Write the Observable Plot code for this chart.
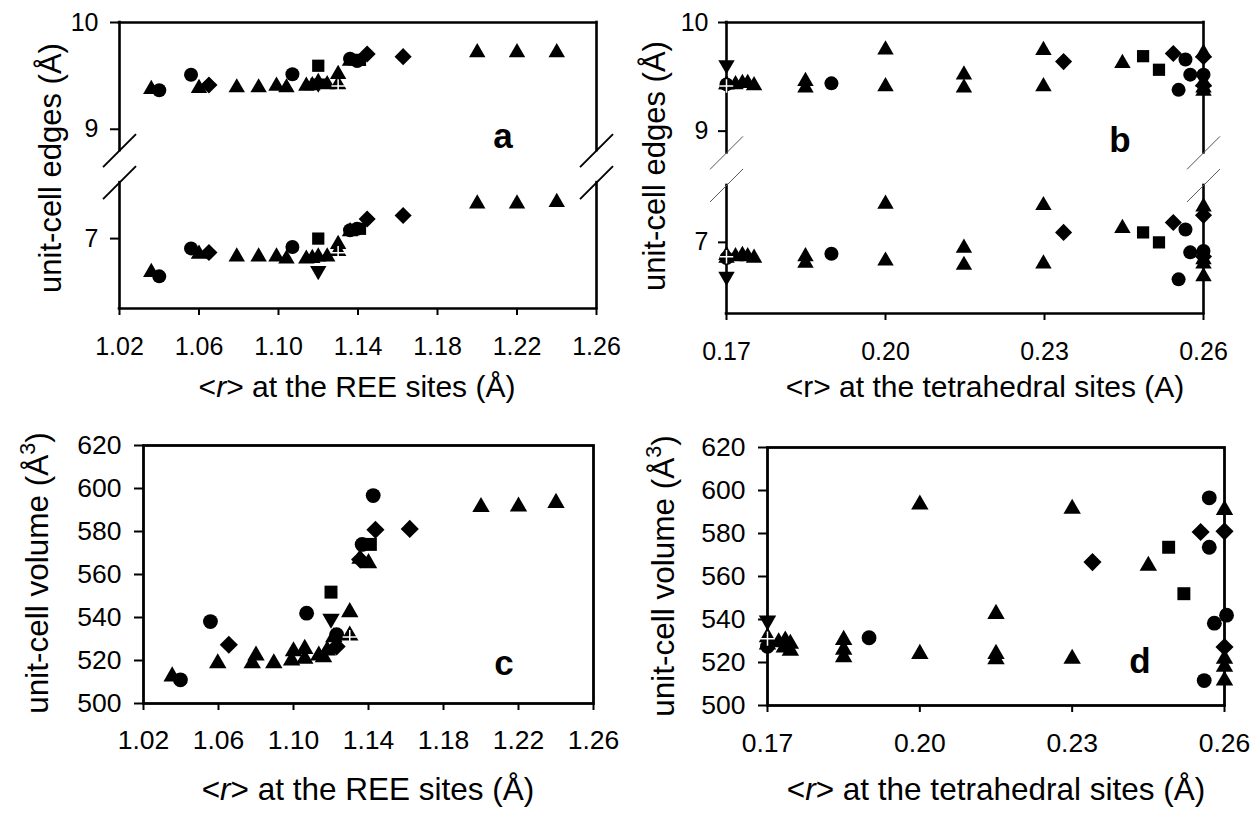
<!DOCTYPE html>
<html>
<head>
<meta charset="utf-8">
<script src="https://cdn.jsdelivr.net/npm/d3@7"></script>
<script src="https://cdn.jsdelivr.net/npm/@observablehq/plot@0.6"></script>
<style>
  body { margin: 0; background: #fff; }
  #root { position: relative; width: 1253px; height: 813px; overflow: hidden;
          font-family: "Liberation Sans", Arial, sans-serif; color: #000; background: #fff; }
  .panel { position: absolute; }
  .lbl { position: absolute; white-space: nowrap; line-height: 1; color: #000; }
  .lbl sup { font-size: 68%; vertical-align: 0.62em; line-height: 0; }
  .panel svg [aria-label$="axis tick"], .panel svg .tick line { stroke-width: 2px; }
</style>
</head>
<body>
<div id="root"></div>
<script>
// ---------------- data ----------------
const reeDomain = [1.02, 1.26];
const tetDomain = [0.17, 0.26];
const reeTicks = [1.02, 1.06, 1.10, 1.14, 1.18, 1.22, 1.26];
const tetTicks = [0.17, 0.20, 0.23, 0.26];
// broken edge axis: [lower min, lower max | upper min, upper max]
const edgeDomain = [6.5, 7.4, 8.8, 10];
// share of the axis height taken at each of those break values
const edgeAxisShare = [0, 0.44, 0.552, 1];
const edgeTicks = [7, 9, 10];
const volumeDomain = [500, 620];
const volumeTicks = [500, 520, 540, 560, 580, 600, 620];

// panel a: [series, <r> REE site, a edge, c edge]
const panelA = [
  ["triangle", 1.036, 9.375, 6.76],
  ["circle", 1.040, 9.365, 6.73],
  ["circle", 1.056, 9.51, 6.93],
  ["triangle", 1.060, 9.385, 6.89],
  ["diamond", 1.065, 9.415, 6.90],
  ["triangle", 1.079, 9.39, 6.87],
  ["triangle", 1.090, 9.39, 6.87],
  ["triangle", 1.099, 9.405, 6.87],
  ["triangle", 1.104, 9.39, 6.855],
  ["circle", 1.107, 9.515, 6.94],
  ["triangle", 1.114, 9.405, 6.855],
  ["triangle", 1.117, 9.41, 6.86],
  ["square", 1.120, 9.595, 7.00],
  ["triangleDown", 1.120, 9.43, 6.77],
  ["triangle", 1.120, 9.44, 6.87],
  ["triangle", 1.1245, 9.42, 6.87],
  ["triangle", 1.130, 9.515, 6.96],
  ["crossTriangle", 1.130, 9.42, 6.91],
  ["triangle", 1.136, 9.64, 7.05],
  ["circle", 1.136, 9.66, 7.06],
  ["square", 1.141, 9.65, 7.07],
  ["circle", 1.1396, 9.64, 7.07],
  ["diamond", 1.1446, 9.705, 7.14],
  ["diamond", 1.1627, 9.68, 7.165],
  ["triangle", 1.200, 9.72, 7.25],
  ["triangle", 1.220, 9.72, 7.25],
  ["triangle", 1.240, 9.72, 7.26]
];

// panel b: [series, <r> tetrahedral site, a edge, c edge]
const panelB = [
  ["triangleDown", 0.170, 9.61, 6.76],
  ["circle", 0.170, 9.43, 6.89],
  ["triangle", 0.170, 9.43, 6.89],
  ["crossTriangle", 0.170, 9.43, 6.91],
  ["triangle", 0.1717, 9.43, 6.90],
  ["triangle", 0.1730, 9.44, 6.91],
  ["triangle", 0.1740, 9.44, 6.90],
  ["triangle", 0.1752, 9.42, 6.89],
  ["triangle", 0.1849, 9.46, 6.90],
  ["triangle", 0.1849, 9.40, 6.855],
  ["circle", 0.1898, 9.44, 6.92],
  ["triangle", 0.200, 9.75, 7.27],
  ["triangle", 0.200, 9.41, 6.87],
  ["triangle", 0.2148, 9.52, 6.96],
  ["triangle", 0.2148, 9.40, 6.84],
  ["triangle", 0.2298, 9.745, 7.26],
  ["triangle", 0.2298, 9.41, 6.85],
  ["diamond", 0.2336, 9.64, 7.07],
  ["triangle", 0.2447, 9.625, 7.10],
  ["square", 0.2486, 9.69, 7.07],
  ["square", 0.2516, 9.565, 7.00],
  ["diamond", 0.2543, 9.715, 7.14],
  ["circle", 0.2566, 9.66, 7.09],
  ["circle", 0.2575, 9.52, 6.93],
  ["circle", 0.2553, 9.38, 6.74],
  ["triangle", 0.260, 9.72, 7.25],
  ["diamond", 0.260, 9.685, 7.19],
  ["circle", 0.260, 9.52, 6.94],
  ["diamond", 0.260, 9.42, 6.90],
  ["triangle", 0.260, 9.45, 6.88],
  ["triangle", 0.260, 9.40, 6.85],
  ["triangle", 0.260, 9.37, 6.76]
];

// panel c: [series, <r> REE site, unit-cell volume]
const panelC = [
  ["triangle", 1.0353, 512.6],
  ["circle", 1.0397, 511.0],
  ["circle", 1.0557, 538.1],
  ["triangle", 1.0596, 518.7],
  ["diamond", 1.0655, 527.3],
  ["triangle", 1.078, 518.7],
  ["triangle", 1.080, 522.3],
  ["triangle", 1.0895, 518.7],
  ["triangle", 1.099, 520.0],
  ["triangle", 1.100, 524.3],
  ["triangle", 1.106, 520.8],
  ["triangle", 1.106, 525.4],
  ["circle", 1.107, 542.0],
  ["triangle", 1.1135, 522.3],
  ["triangle", 1.116, 521.5],
  ["triangle", 1.118, 524.7],
  ["triangle", 1.1215, 530.8],
  ["diamond", 1.123, 526.5],
  ["circle", 1.123, 532.0],
  ["square", 1.120, 551.8],
  ["triangleDown", 1.120, 539.4],
  ["triangle", 1.130, 542.5],
  ["crossTriangle", 1.130, 531.6],
  ["triangle", 1.1355, 567.3],
  ["diamond", 1.1355, 567.0],
  ["triangle", 1.140, 565.3],
  ["circle", 1.1366, 574.0],
  ["square", 1.141, 574.0],
  ["circle", 1.1425, 596.7],
  ["diamond", 1.1437, 580.8],
  ["diamond", 1.162, 581.2],
  ["triangle", 1.200, 591.4],
  ["triangle", 1.220, 591.6],
  ["triangle", 1.240, 593.3]
];

// panel d: [series, <r> tetrahedral site, unit-cell volume]
const panelD = [
  ["triangle", 0.170, 528.4],
  ["circle", 0.170, 527.5],
  ["triangleDown", 0.170, 539.5],
  ["crossTriangle", 0.170, 531.8],
  ["triangle", 0.1722, 529.4],
  ["triangle", 0.1733, 527.0],
  ["triangle", 0.1735, 530.2],
  ["triangle", 0.1745, 528.7],
  ["triangle", 0.1745, 525.5],
  ["triangle", 0.185, 530.5],
  ["triangle", 0.185, 526.0],
  ["triangle", 0.185, 522.5],
  ["circle", 0.190, 531.5],
  ["triangle", 0.200, 593.5],
  ["triangle", 0.200, 524.0],
  ["triangle", 0.215, 542.6],
  ["triangle", 0.215, 524.0],
  ["triangle", 0.215, 521.5],
  ["triangle", 0.230, 591.5],
  ["triangle", 0.230, 521.7],
  ["diamond", 0.234, 566.7],
  ["triangle", 0.245, 565.0],
  ["square", 0.249, 573.6],
  ["square", 0.252, 552.0],
  ["diamond", 0.2553, 580.7],
  ["circle", 0.257, 596.6],
  ["circle", 0.257, 573.6],
  ["circle", 0.258, 538.3],
  ["circle", 0.256, 511.6],
  ["circle", 0.2604, 542.0],
  ["triangle", 0.260, 591.0],
  ["diamond", 0.260, 581.0],
  ["diamond", 0.260, 527.2],
  ["triangle", 0.260, 521.7],
  ["triangle", 0.260, 518.0],
  ["triangle", 0.260, 511.6]
];

// ---------------- styling ----------------
const seriesOrder = ["triangle", "triangleDown", "square", "circle", "diamond", "crossTriangle"];
const seriesSymbol = {triangle: "triangle", triangleDown: "triangle", square: "square",
                      circle: "circle", diamond: "diamond2", crossTriangle: "triangle"};
const seriesR = {triangle: 6.1, triangleDown: 6.1, square: 6.9, circle: 7.0, diamond: 7.7, crossTriangle: 6.1};
const FONT = "'Liberation Sans', Arial, Helvetica, sans-serif";

// broken axis: edge value <-> position along the axis (0..1)
const edgeAxis = d3.scaleLinear().domain(edgeDomain).range(edgeAxisShare);
const edgeFromAxis = d3.scaleLinear().domain(edgeAxisShare).range(edgeDomain);

function dotMarks(rows, yi, k, yMap) {
  const f = yMap || (v => v);
  const marks = [];
  for (const s of seriesOrder) {
    const rs = rows.filter(r => r[0] === s);
    if (!rs.length) continue;
    marks.push(Plot.dot(rs, {
      x: r => r[1], y: r => f(r[yi]), symbol: seriesSymbol[s], r: seriesR[s] * k,
      fill: "black", stroke: "none", rotate: s === "triangleDown" ? 180 : 0
    }));
    if (s === "crossTriangle") {
      marks.push(Plot.dot(rs, {x: r => r[1], y: r => f(r[yi]), symbol: "plus", r: 4.4 * k,
        fill: "none", stroke: "white", strokeWidth: 1.5, dy: 1.5}));
    }
  }
  return marks;
}

// broken-axis frame (in axis units) with break slashes
function brokenFrame(xDom, xPx, yPx, frameW, slashW, slashColor) {
  const lo = edgeAxis(edgeDomain[1]), hi = edgeAxis(edgeDomain[2]);
  const top = edgeAxis(edgeDomain[3]), bot = edgeAxis(edgeDomain[0]);
  const hz = [{y: bot}, {y: top}];
  const vt = [];
  for (const xv of xDom) {
    vt.push({x: xv, y1: bot, y2: lo});
    vt.push({x: xv, y1: hi, y2: top});
  }
  const h = 16.5;
  const dx = h * (xDom[1] - xDom[0]) / xPx, dy = h / yPx;
  const slashes = [];
  for (const xv of xDom) for (const yv of [lo, hi]) {
    slashes.push({x1: xv - dx, y1: yv - dy, x2: xv + dx, y2: yv + dy});
  }
  return [
    Plot.ruleY(hz, {y: "y", x1: xDom[0], x2: xDom[1], stroke: "black", strokeWidth: frameW, strokeLinecap: "square"}),
    Plot.ruleX(vt, {x: "x", y1: "y1", y2: "y2", stroke: "black", strokeWidth: frameW, strokeLinecap: "square"}),
    Plot.link(slashes, {x1: "x1", y1: "y1", x2: "x2", y2: "y2", stroke: slashColor, strokeWidth: slashW})
  ];
}

const root = document.getElementById("root");
function place(svg, left, top) {
  const d = document.createElement("div");
  d.className = "panel";
  d.style.left = left + "px";
  d.style.top = top + "px";
  d.appendChild(svg);
  root.appendChild(d);
}
function label(html, cx, cy, size, opts = {}) {
  const d = document.createElement("div");
  d.className = "lbl";
  d.innerHTML = html;
  d.style.left = cx + "px";
  d.style.top = cy + "px";
  d.style.fontSize = size + "px";
  if (opts.bold) d.style.fontWeight = "bold";
  d.style.transform = "translate(-50%,-50%)" + (opts.rotate ? " rotate(-90deg)" : "");
  root.appendChild(d);
}
const svgStyle = (fs) => ({background: "transparent", fontFamily: FONT, fontSize: fs + "px",
                           color: "black", overflow: "visible"});
const edgeTickFormat = v => d3.format("d")(Math.round(edgeFromAxis(v)));

// ---------------- panel a ----------------
{
  const W = 626, H = 406, mL = 119, mR = 30, mT = 22, mB = 98;
  const svg = Plot.plot({
    width: W, height: H, marginLeft: mL, marginRight: mR, marginTop: mT, marginBottom: mB,
    style: svgStyle(25),
    x: {domain: reeDomain, ticks: reeTicks, tickFormat: ".2f", tickSize: 7, tickPadding: 22, label: null},
    y: {domain: [0, 1], ticks: edgeTicks.map(edgeAxis), tickFormat: edgeTickFormat,
        tickSize: 9, tickPadding: 12, label: null},
    marks: [
      ...brokenFrame(reeDomain, W - mL - mR, H - mT - mB, 2.6, 2, "black"),
      ...dotMarks(panelA, 2, 1, edgeAxis),
      ...dotMarks(panelA, 3, 1, edgeAxis)
    ]
  });
  place(svg, 0, 0);
}

// ---------------- panel b ----------------
{
  const W = 627, H = 406, mL = 100, mR = 50, mT = 22, mB = 93;
  const svg = Plot.plot({
    width: W, height: H, marginLeft: mL, marginRight: mR, marginTop: mT, marginBottom: mB,
    style: svgStyle(25),
    x: {domain: tetDomain, ticks: tetTicks, tickFormat: ".2f", tickSize: 7, tickPadding: 22, label: null},
    y: {domain: [0, 1], ticks: edgeTicks.map(edgeAxis), tickFormat: edgeTickFormat,
        tickSize: 8, tickPadding: 10, label: null},
    marks: [
      ...brokenFrame(tetDomain, W - mL - mR, H - mT - mB, 2.6, 1, "#555"),
      ...dotMarks(panelB, 2, 1, edgeAxis),
      ...dotMarks(panelB, 3, 1, edgeAxis)
    ]
  });
  place(svg, 626, 0);
}

// ---------------- panel c ----------------
{
  const W = 626, H = 407;
  const svg = Plot.plot({
    width: W, height: H, marginLeft: 143, marginRight: W - 593, marginTop: 39, marginBottom: H - 297,
    style: svgStyle(26.5),
    x: {domain: reeDomain, ticks: reeTicks, tickFormat: ".2f", tickSize: 7, tickPadding: 20, label: null},
    y: {domain: volumeDomain, ticks: volumeTicks, tickSize: 9, tickPadding: 13, label: null},
    marks: [
      Plot.frame({stroke: "black", strokeWidth: 2.8}),
      ...dotMarks(panelC, 2, 1.06)
    ]
  });
  place(svg, 0, 406);
}

// ---------------- panel d ----------------
{
  const W = 627, H = 407;
  const svg = Plot.plot({
    width: W, height: H, marginLeft: 141, marginRight: W - 598, marginTop: 41, marginBottom: H - 299,
    style: svgStyle(26.5),
    x: {domain: tetDomain, ticks: tetTicks, tickFormat: ".2f", tickSize: 7, tickPadding: 21, label: null},
    y: {domain: volumeDomain, ticks: volumeTicks, tickSize: 9, tickPadding: 13, label: null},
    marks: [
      Plot.frame({stroke: "black", strokeWidth: 2.8}),
      ...dotMarks(panelD, 2, 1.06)
    ]
  });
  place(svg, 626, 406);
}

// ---------------- titles & panel letters ----------------
label("&lt;<i>r</i>&gt; at the REE sites (Å)", 357, 387, 30);
label("&lt;r&gt; at the tetrahedral sites (A)", 985, 387, 30);
label("&lt;<i>r</i>&gt; at the REE sites (Å)", 368, 790, 31.5);
label("&lt;<i>r</i>&gt; at the tetrahedral sites (Å)", 996, 790, 31.5);
label("unit-cell edges (Å)", 50, 168, 31, {rotate: true});
label("unit-cell edges (Å)", 654, 166, 31, {rotate: true});
label("unit-cell volume (Å<sup>3</sup>)", 38, 573, 31.5, {rotate: true});
label("unit-cell volume (Å<sup>3</sup>)", 664, 576, 31.5, {rotate: true});
label("a", 503, 135, 35, {bold: true});
label("b", 1120, 139, 35, {bold: true});
label("c", 504, 662, 35, {bold: true});
label("d", 1140, 660, 35, {bold: true});
</script>
</body>
</html>
